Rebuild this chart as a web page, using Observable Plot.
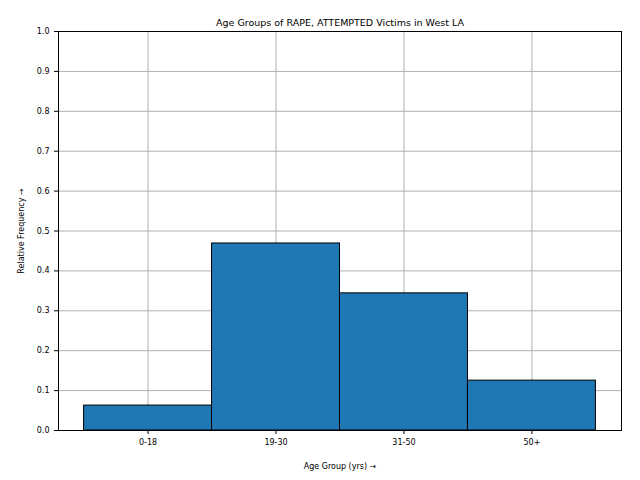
<!DOCTYPE html>
<html>
<head>
<meta charset="utf-8">
<script src="https://cdn.jsdelivr.net/npm/d3@7"></script>
<script src="https://cdn.jsdelivr.net/npm/@observablehq/plot@0.6"></script>
<style>
  body { margin: 0; background: #fff; }
  svg { font-family: "DejaVu Sans", sans-serif; }
</style>
</head>
<body>
<div id="chart"></div>
<script>
const ageGroups = ['0-18', '19-30', '31-50', '50+'];
const relFreq = [0.0625, 0.46875, 0.34375, 0.125];
const yTicks = [0, 0.1, 0.2, 0.3, 0.4, 0.5, 0.6, 0.7, 0.8, 0.9, 1.0];

const data = ageGroups.map((g, i) => ({ group: g, i: i, value: relFreq[i] }));

const chart = Plot.plot({
  width: 640,
  height: 480,
  marginLeft: 58,
  marginRight: 19,
  marginTop: 31,
  marginBottom: 50,
  style: { fontSize: '8px', fontFamily: 'DejaVu Sans, sans-serif', color: '#000' },
  x: {
    domain: [-0.7, 3.7],
    ticks: [0, 1, 2, 3],
    tickFormat: i => ageGroups[i],
    label: 'Age Group (yrs)',
    labelAnchor: 'center',
    labelOffset: 38,
    tickSize: 4
  },
  y: {
    domain: [0, 1],
    ticks: yTicks,
    tickFormat: d => d.toFixed(1),
    label: 'Relative Frequency',
    labelAnchor: 'center',
    labelOffset: 40,
    tickSize: 4
  },
  marks: [
    Plot.gridX([0, 1, 2, 3], { stroke: '#b0b0b0', strokeOpacity: 1 }),
    Plot.gridY(yTicks, { stroke: '#b0b0b0', strokeOpacity: 1 }),
    Plot.rectY(data, {
      x1: d => d.i - 0.5,
      x2: d => d.i + 0.5,
      y: 'value',
      fill: '#1f77b4',
      stroke: '#000',
      strokeWidth: 1
    }),
    Plot.frame({ stroke: '#000' }),
    Plot.text(['Age Groups of RAPE, ATTEMPTED Victims in West LA'], {
      frameAnchor: 'top',
      dy: -12,
      fontSize: 9.5
    })
  ]
});

d3.select('#chart').append(() => chart);
</script>
</body>
</html>
